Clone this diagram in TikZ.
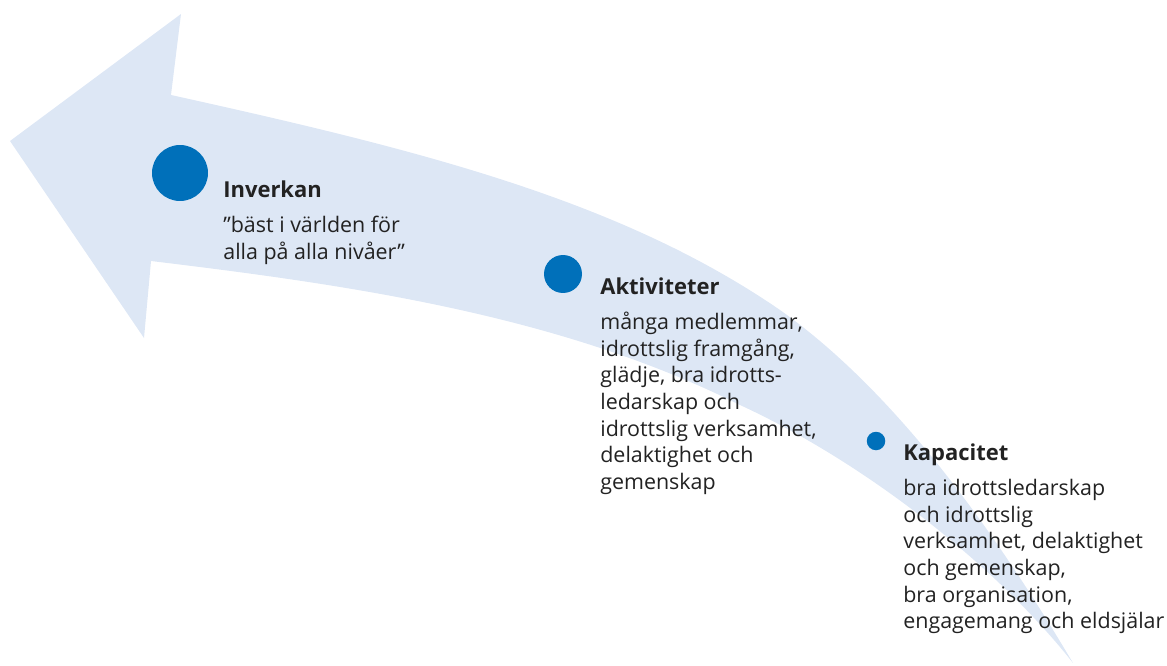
\documentclass[tikz,border=0pt]{standalone}
\usepackage{fontspec}
\setmainfont{Open Sans}
\definecolor{bandblue}{HTML}{DDE7F5}
\definecolor{dotblue}{HTML}{0070BA}
\definecolor{inkgrey}{HTML}{222222}
\newcommand{\stagehead}[1]{{\bfseries\fontsize{12.5}{15}\selectfont #1}\\[5.3pt]}
\begin{document}
\begin{tikzpicture}[x=0.02cm, y=-0.02cm,
  every node/.style={font=\fontsize{12.2}{15.1}\selectfont, text=inkgrey},
  dot/.style={circle, fill=dotblue, inner sep=0pt},
  stage/.style={anchor=north west, align=left, inner sep=0pt}]
  \useasboundingbox (0,0) rectangle (1167,666);
  % the bent arrow, head on the left, thin end bottom right
  \fill[bandblue] (10,141) -- (181,14) -- (171,95)
    .. controls (420,150) and (620,200) .. (780,310)
    .. controls (900,395) and (1000,540) .. (1073,663)
    .. controls (1000,570) and (870,465) .. (740,405)
    .. controls (560,315) and (350,285) .. (151,261)
    -- (144,338) -- cycle;
  % dots
  \node[dot, minimum size=1.12cm] (inverkan) at (180,173) {};
  \node[dot, minimum size=0.76cm] (aktiviteter) at (563,274) {};
  \node[dot, minimum size=0.37cm] (kapacitet) at (876,441) {};
  % texts
  \node[stage] (inverkanText) at (223,180)
    {\stagehead{Inverkan}”bäst i världen för\\alla på alla nivåer”};
  \node[stage] (aktiviteterText) at (600,277)
    {\stagehead{Aktiviteter}många medlemmar,\\idrottslig framgång,\\glädje, bra idrotts-\\ledarskap och\\idrottslig verksamhet,\\delaktighet och\\gemenskap};
  \node[stage] (kapacitetText) at (903,443)
    {\stagehead{Kapacitet}bra idrottsledarskap\\och idrottslig\\verksamhet, delaktighet\\och gemenskap,\\bra organisation,\\engagemang och eldsjälar};
\end{tikzpicture}
\end{document}
